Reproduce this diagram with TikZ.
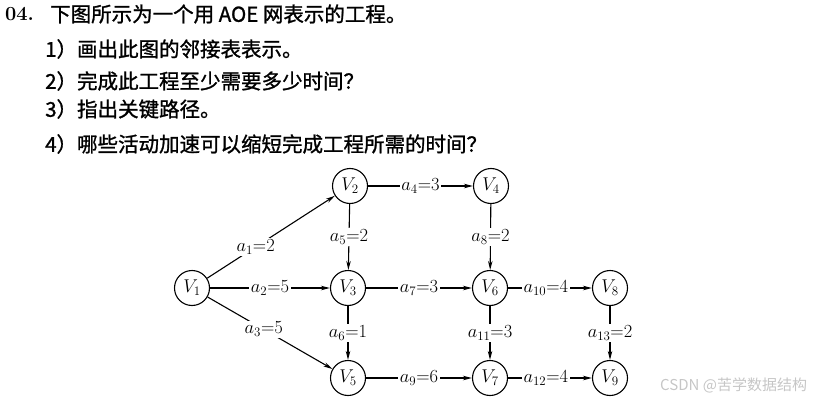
\RequirePackage{fix-cm}
\documentclass[tikz,border=0pt]{standalone}
\usepackage{fontspec}
\usetikzlibrary{arrows.meta}
\newfontfamily\cjk{Noto Sans CJK SC}
\newfontfamily\cjkq[FakeBold=1.2]{Noto Sans CJK SC}
\tikzset{
  vtx/.style={draw,circle,minimum size=35pt,inner sep=0pt,line width=1.1pt,font=\fontsize{18.5}{21}\selectfont},
  wlab/.style={fill=white,inner sep=1.5pt,font=\fontsize{18.5}{21}\selectfont},
  arc/.style={->,>={Stealth[length=9pt,width=4.5pt]},line width=1.1pt},
  qline/.style={anchor=west,inner sep=0pt,font=\cjkq\fontsize{20.5}{23}\selectfont},
}
\begin{document}
\begin{tikzpicture}[x=1pt,y=-1pt]
	\useasboundingbox (0,0) rectangle (821,401);
	% question
	\node[anchor=west,inner sep=0pt,font=\fontsize{20}{22}\selectfont\bfseries] (num) at (5,14) {04.};
	\node[qline] (q0) at (50,14) {下图所示为一个用 AOE 网表示的工程。};
	\node[qline] (q1) at (45,49) {1）画出此图的邻接表表示。};
	\node[qline] (q2) at (45,81) {2）完成此工程至少需要多少时间？};
	\node[qline] (q3) at (45,109) {3）指出关键路径。};
	\node[qline] (q4) at (45,144) {4）哪些活动加速可以缩短完成工程所需的时间？};
	% vertices
	\node[vtx] (v1) at (192,288) {$V_1$};
	\node[vtx] (v2) at (350,186) {$V_2$};
	\node[vtx] (v3) at (348,288) {$V_3$};
	\node[vtx] (v4) at (491,186) {$V_4$};
	\node[vtx] (v5) at (348,378) {$V_5$};
	\node[vtx] (v6) at (490,288) {$V_6$};
	\node[vtx] (v7) at (490,378) {$V_7$};
	\node[vtx] (v8) at (610,288) {$V_8$};
	\node[vtx] (v9) at (610,378) {$V_9$};
	% activities
	\draw[arc] (v1) -- node[wlab,pos=0.38]{$a_1{=}2$} (v2);
	\draw[arc] (v1) -- node[wlab,pos=0.5]{$a_2{=}5$} (v3);
	\draw[arc] (v1) -- node[wlab,pos=0.45]{$a_3{=}5$} (v5);
	\draw[arc] (v2) -- node[wlab]{$a_4{=}3$} (v4);
	\draw[arc] (v2) -- node[wlab]{$a_5{=}2$} (v3);
	\draw[arc] (v3) -- node[wlab]{$a_6{=}1$} (v5);
	\draw[arc] (v3) -- node[wlab]{$a_7{=}3$} (v6);
	\draw[arc] (v4) -- node[wlab]{$a_8{=}2$} (v6);
	\draw[arc] (v5) -- node[wlab]{$a_9{=}6$} (v7);
	\draw[arc] (v6) -- node[wlab,pos=0.45]{$a_{10}{=}4$} (v8);
	\draw[arc] (v6) -- node[wlab]{$a_{11}{=}3$} (v7);
	\draw[arc] (v7) -- node[wlab,pos=0.45]{$a_{12}{=}4$} (v9);
	\draw[arc] (v8) -- node[wlab]{$a_{13}{=}2$} (v9);
	% watermark
	\node[anchor=west,inner sep=0pt,text=gray!45,font=\cjk\fontsize{15}{17}\selectfont] (wm) at (660,385) {CSDN @苦学数据结构};
\end{tikzpicture}
\end{document}
